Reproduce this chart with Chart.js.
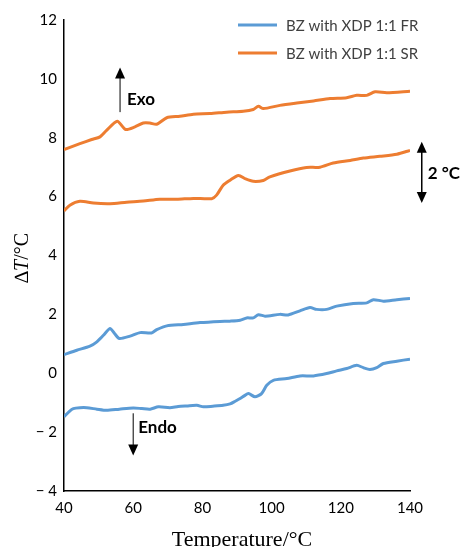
<!DOCTYPE html>
<html>
<head>
<meta charset="utf-8">
<script src="https://cdn.jsdelivr.net/npm/chart.js@4.4.1/dist/chart.umd.min.js"></script>
<style>
  html, body { margin: 0; padding: 0; background: #fff; }
  #wrap { width: 463px; height: 547px; position: relative; }
</style>
</head>
<body>
<div id="wrap"><canvas id="dsc"></canvas></div>
<script>
// DSC traces of BZ with XDP 1:1, fast (FR) and slow (SR) runs, offset vertically.
const seriesLabels = ['BZ with XDP 1:1 FR', 'BZ with XDP 1:1 SR'];
const seriesColors = ['#5B9BD5', '#ED7D31'];

const yTickValues = [-4, -2, 0, 2, 4, 6, 8, 10, 12];
const yTickLabels = ['\u2212 4', '\u2212 2', '0', '2', '4', '6', '8', '10', '12'];
const xTickLabels = ['40', '60', '80', '100', '120', '140'];

// FR trace, lower copy
const frLowT  = [40, 41.5, 42.7, 44.6, 46.6, 49.5, 52.3, 56, 60, 62.5, 64.9, 67.3, 70.6, 73, 75.5, 78.4, 80.3, 83, 86, 88, 89.5, 90.9, 92.2, 93.3, 95.2, 97.1, 98.6, 100.5, 104.4, 108.2, 112.1, 115.9, 118.8, 121.7, 124.6, 126.5, 128.4, 130.4, 132.3, 136.2, 140];
const frLowDT = [-1.48, -1.3, -1.2, -1.17, -1.17, -1.22, -1.26, -1.22, -1.18, -1.2, -1.22, -1.14, -1.17, -1.13, -1.11, -1.09, -1.14, -1.12, -1.09, -1.04, -0.95, -0.86, -0.76, -0.69, -0.80, -0.69, -0.41, -0.24, -0.18, -0.09, -0.09, -0.01, 0.08, 0.16, 0.27, 0.19, 0.13, 0.19, 0.33, 0.41, 0.48];

// FR trace, upper copy
const frHighT  = [40, 43.7, 47.5, 49.4, 51.4, 53.3, 54.6, 56, 59.1, 62, 65.3, 66.8, 69.7, 74.5, 79.3, 85.1, 88, 90.9, 92.8, 94.7, 96.2, 98.1, 102.4, 104.8, 108.2, 111.1, 113, 115.9, 118.8, 123.6, 127.5, 129.4, 132.3, 136.2, 140];
const frHighDT = [0.63, 0.78, 0.92, 1.06, 1.29, 1.52, 1.35, 1.18, 1.26, 1.38, 1.37, 1.48, 1.61, 1.66, 1.72, 1.76, 1.77, 1.80, 1.88, 1.88, 1.99, 1.94, 2.00, 1.98, 2.12, 2.23, 2.17, 2.17, 2.28, 2.37, 2.39, 2.50, 2.45, 2.50, 2.54];

// SR trace, lower copy
const srLowT  = [40, 41.7, 44.6, 48.5, 53.3, 58.1, 62.9, 67.7, 72.6, 77.4, 82.7, 84.1, 86, 88, 90.4, 92.5, 94.7, 97.6, 99.5, 105.3, 110.1, 114, 117.8, 122.7, 126.5, 131.3, 136.2, 140];
const srLowDT = [5.51, 5.71, 5.84, 5.78, 5.76, 5.81, 5.85, 5.91, 5.91, 5.94, 5.93, 6.05, 6.39, 6.56, 6.72, 6.6, 6.52, 6.55, 6.67, 6.87, 6.99, 7.0, 7.14, 7.23, 7.31, 7.37, 7.44, 7.57];

// SR trace, upper copy
const srHighT  = [40, 44.6, 48, 50.4, 52.3, 55.4, 57.8, 60.5, 62.9, 64.8, 66.8, 69.7, 73.5, 77.4, 82.2, 87, 91.8, 94.7, 96.2, 97.6, 102.4, 107.3, 112.1, 116.9, 121.7, 124.6, 127.5, 129.9, 133.3, 140];
const srHighDT = [7.6, 7.80, 7.94, 8.03, 8.25, 8.56, 8.28, 8.37, 8.50, 8.50, 8.46, 8.68, 8.73, 8.80, 8.82, 8.87, 8.90, 8.96, 9.07, 8.99, 9.10, 9.18, 9.25, 9.33, 9.36, 9.44, 9.44, 9.56, 9.53, 9.58];

function toPoints(xs, ys) { return xs.map((x, i) => ({ x: x, y: ys[i] })); }

function traceDataset(label, color, xs, ys, showInLegend) {
  return {
    label: label,
    data: toPoints(xs, ys),
    borderColor: color,
    backgroundColor: color,
    borderWidth: 3,
    pointRadius: 0,
    tension: 0.25,
    fill: false,
    inLegend: showInLegend
  };
}

const datasets = [
  traceDataset(seriesLabels[0], seriesColors[0], frLowT, frLowDT, false),
  traceDataset(seriesLabels[0], seriesColors[0], frHighT, frHighDT, true),
  traceDataset(seriesLabels[1], seriesColors[1], srLowT, srLowDT, false),
  traceDataset(seriesLabels[1], seriesColors[1], srHighT, srHighDT, true)
];

// Arrow annotations, in data units (temperature, ΔT)
const exoArrow   = { x: 56.2, from: 8.87, to: 10.39, text: 'Exo' };
const endoArrow  = { x: 60.0, from: -1.36, to: -2.79, text: 'Endo' };
const scaleArrow = { x: 143.4, from: 5.78, to: 7.86, text: '2 \u00B0C' };

const tickFont = { family: 'Lato', size: 15 };

function drawArrowHead(ctx, x, y, dir) {
  // dir = -1 points up, +1 points down
  ctx.beginPath();
  ctx.moveTo(x, y);
  ctx.lineTo(x - 5, y - dir * 11);
  ctx.lineTo(x + 5, y - dir * 11);
  ctx.closePath();
  ctx.fill();
}

const decorations = {
  id: 'decorations',
  afterDatasetsDraw(chart) {
    const ctx = chart.ctx;
    const xs = chart.scales.x, ys = chart.scales.y;
    ctx.save();
    ctx.fillStyle = '#000';
    ctx.strokeStyle = '#000';

    // Exo arrow
    let ax = xs.getPixelForValue(exoArrow.x);
    let y0 = ys.getPixelForValue(exoArrow.from), y1 = ys.getPixelForValue(exoArrow.to);
    ctx.lineWidth = 1;
    ctx.beginPath(); ctx.moveTo(ax, y0); ctx.lineTo(ax, y1 + 8); ctx.stroke();
    drawArrowHead(ctx, ax, y1, -1);
    ctx.font = 'bold 17px Lato';
    ctx.textAlign = 'left'; ctx.textBaseline = 'middle';
    ctx.fillText(exoArrow.text, ax + 7, (y0 + y1) / 2 + 10);

    // Endo arrow
    ax = xs.getPixelForValue(endoArrow.x);
    y0 = ys.getPixelForValue(endoArrow.from); y1 = ys.getPixelForValue(endoArrow.to);
    ctx.beginPath(); ctx.moveTo(ax, y0); ctx.lineTo(ax, y1 - 8); ctx.stroke();
    drawArrowHead(ctx, ax, y1, 1);
    ctx.fillText(endoArrow.text, ax + 5, y0 + 14);

    // 2 °C double arrow
    ax = xs.getPixelForValue(scaleArrow.x);
    y0 = ys.getPixelForValue(scaleArrow.from); y1 = ys.getPixelForValue(scaleArrow.to);
    ctx.lineWidth = 1.5;
    ctx.beginPath(); ctx.moveTo(ax, y0 - 8); ctx.lineTo(ax, y1 + 8); ctx.stroke();
    drawArrowHead(ctx, ax, y1, -1);
    drawArrowHead(ctx, ax, y0, 1);
    ctx.fillText(scaleArrow.text, ax + 6, (y0 + y1) / 2 + 1);

    // Legend
    const shown = chart.data.datasets.filter(d => d.inLegend);
    ctx.font = '15px Lato';
    ctx.textBaseline = 'middle';
    shown.forEach((d, i) => {
      const ly = 25 + i * 28;
      ctx.strokeStyle = d.borderColor;
      ctx.lineWidth = 3;
      ctx.beginPath(); ctx.moveTo(238, ly); ctx.lineTo(277, ly); ctx.stroke();
      ctx.fillStyle = '#404040';
      ctx.fillText(d.label, 286, ly + 1);
    });

    // Axis titles
    ctx.fillStyle = '#000';
    ctx.textAlign = 'center'; ctx.textBaseline = 'alphabetic';
    ctx.font = '22px "Liberation Serif"';
    ctx.fillText('Temperature/\u00B0C', (chart.chartArea.left + chart.chartArea.right) / 2 + 5, 546);

    ctx.save();
    ctx.translate(28, 258);
    ctx.rotate(-Math.PI / 2);
    const parts = [
      { t: '\u2206', f: '20px "Liberation Serif"' },
      { t: 'T', f: 'italic 20px "Liberation Serif"' },
      { t: '/\u00B0C', f: '20px "Liberation Serif"' }
    ];
    let total = 0;
    parts.forEach(p => { ctx.font = p.f; p.w = ctx.measureText(p.t).width; total += p.w; });
    let cx = -total / 2;
    ctx.textAlign = 'left';
    parts.forEach(p => { ctx.font = p.f; ctx.fillText(p.t, cx, 0); cx += p.w; });
    ctx.restore();

    ctx.restore();
  }
};

new Chart(document.getElementById('dsc'), {
  type: 'line',
  data: { datasets: datasets },
  options: {
    responsive: true,
    maintainAspectRatio: false,
    animation: false,
    layout: { padding: { top: 20, right: 53, left: 0, bottom: 0 } },
    plugins: { legend: { display: false }, tooltip: { enabled: false } },
    scales: {
      x: {
        type: 'linear',
        min: 40, max: 140,
        afterFit(scale) { scale.height = 56; },
        grid: { display: false, drawTicks: false },
        border: { display: true, color: '#000', width: 1.5 },
        ticks: {
          stepSize: 20, padding: 8, color: '#000', font: tickFont,
          maxRotation: 0,
          callback: (v) => xTickLabels[Math.round((v - 40) / 20)]
        }
      },
      y: {
        min: -4, max: 12,
        afterFit(scale) { scale.width = 64; },
        grid: { display: false, drawTicks: false },
        border: { display: true, color: '#000', width: 1.5 },
        ticks: {
          stepSize: 2, padding: 7, color: '#000', font: tickFont,
          callback: (v) => yTickLabels[yTickValues.indexOf(v)]
        }
      }
    }
  },
  plugins: [decorations]
});
</script>
</body>
</html>
